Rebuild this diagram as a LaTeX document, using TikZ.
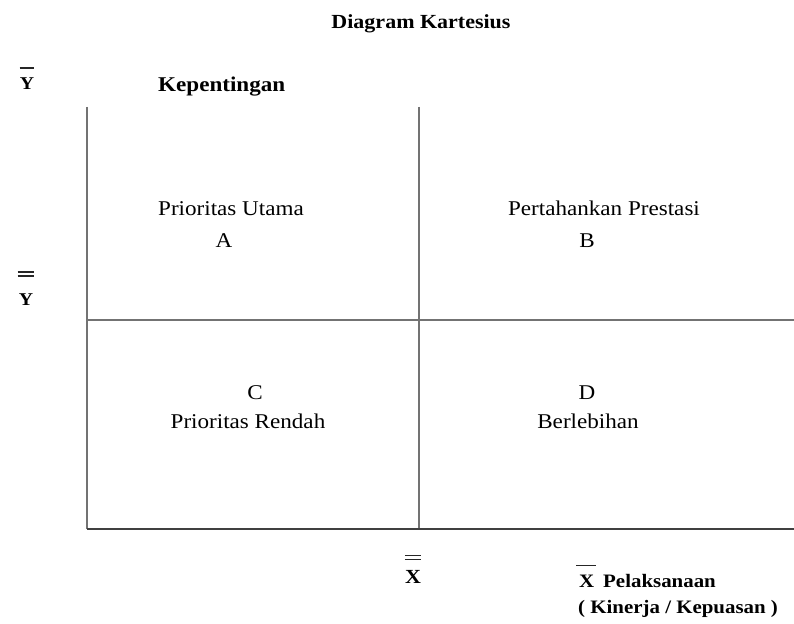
\documentclass[tikz,border=0pt]{standalone}
\usepackage{fontspec}
\setmainfont[FakeStretch=1.1]{Liberation Serif}
\begin{document}
\begin{tikzpicture}[x=1pt,y=-1pt,
  gridline/.style={draw=black!55, line width=1.1pt},
  axisline/.style={draw=black!75, line width=1.8pt},
  barline/.style={draw=black!85, line width=1.2pt},
  lbl/.style={inner sep=0pt, anchor=base, font=\fontsize{21}{25}\selectfont},
  blbl/.style={inner sep=0pt, anchor=base, font=\fontsize{21}{25}\selectfont\bfseries}]
\useasboundingbox (0,0) rectangle (794,623);
\fill[white] (0,0) rectangle (794,623);
% frame coordinates
\coordinate (tl) at (87,107);
\coordinate (tm) at (419,107);
\coordinate (ml) at (87,320);
\coordinate (mr) at (794,320);
\coordinate (bl) at (87,529);
\coordinate (bm) at (419,529);
\coordinate (br) at (794,529);
% lines
\draw[gridline] (tl) -- (bl);
\draw[gridline] (tm) -- (bm);
\draw[gridline] (ml) -- (mr);
\draw[axisline] (bl) -- (br);
% title and axis labels
\node[blbl, font=\fontsize{20}{24}\selectfont\bfseries] (title) at (421,29) {Diagram Kartesius};
\node[blbl, anchor=base west] (kep) at (158,92) {Kepentingan};
\node[blbl, font=\fontsize{18}{22}\selectfont\bfseries] (ytop) at (27,90) {Y};
\draw[barline] ([yshift=10pt]ytop.north west) -- ([yshift=10pt]ytop.north east);
\node[blbl, font=\fontsize{18}{22}\selectfont\bfseries] (ymid) at (26,305) {Y};
\draw[barline] ([xshift=-1pt,yshift=21pt]ymid.north west) -- ([xshift=1pt,yshift=21pt]ymid.north east);
\draw[barline] ([xshift=-1pt,yshift=17pt]ymid.north west) -- ([xshift=1pt,yshift=17pt]ymid.north east);
\node[blbl, font=\fontsize{20}{24}\selectfont\bfseries] (xmid) at (413,583) {X};
\draw[barline] ([yshift=14pt]xmid.north west) -- ([yshift=14pt]xmid.north east);
\draw[barline] ([yshift=10pt]xmid.north west) -- ([yshift=10pt]xmid.north east);
\node[blbl, anchor=base west, font=\fontsize{19}{23}\selectfont\bfseries] (xlab) at (579,587) {X};
\draw[barline] ([xshift=-3pt,yshift=9pt]xlab.north west) -- ([xshift=1pt,yshift=9pt]xlab.north east);
\node[blbl, anchor=base west, font=\fontsize{19}{23}\selectfont\bfseries] (pel) at (603,587) {Pelaksanaan};
\node[blbl, anchor=base west, font=\fontsize{19}{23}\selectfont\bfseries] (kin) at (578,613) {( Kinerja / Kepuasan )};
% quadrant labels
\node[lbl] (qa1) at (231,215) {Prioritas Utama};
\node[lbl] (qa2) at (224,247) {A};
\node[lbl] (qb1) at (604,215) {Pertahankan Prestasi};
\node[lbl] (qb2) at (587,247) {B};
\node[lbl] (qc1) at (255,399) {C};
\node[lbl] (qc2) at (248,428) {Prioritas Rendah};
\node[lbl] (qd1) at (587,399) {D};
\node[lbl] (qd2) at (588,428) {Berlebihan};
\end{tikzpicture}
\end{document}
